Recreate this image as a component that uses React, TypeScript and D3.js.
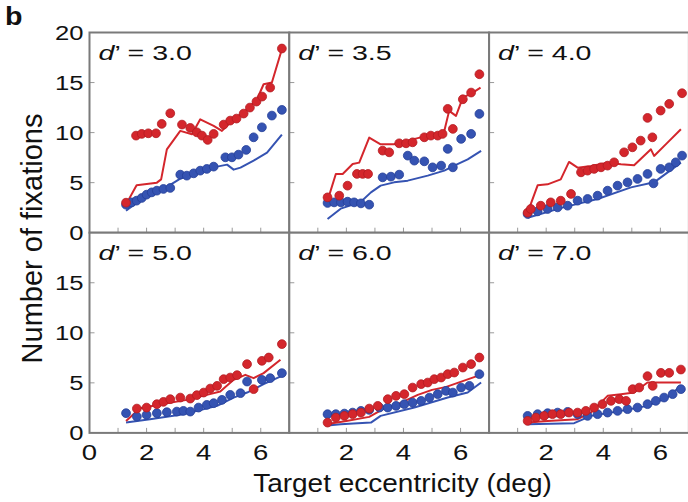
import React from 'react';
import * as d3 from 'd3';

type Pt = [number, number];

// panel titles (d' values)
const dPrimes = ['3.0', '3.5', '4.0', '5.0', '6.0', '7.0'];
const xTicksLabelled = [0, 2, 4, 6];
const xMinorTicks = [1, 2, 3, 4, 5, 6];
const yTicksTop = [0, 5, 10, 15, 20];
const yTicksBottom = [0, 5, 10, 15];
const yMinorTicks = [5, 10, 15];

// d' = 3.0
const red30: Pt[] = [[1.28, 3.0], [1.63, 9.7], [1.83, 9.87], [2.06, 9.93], [2.33, 9.93], [2.53, 10.87], [2.83, 11.93], [3.24, 10.8], [3.53, 10.47], [3.76, 10.03], [3.94, 9.7], [4.14, 9.27], [4.35, 9.87], [4.7, 10.8], [4.93, 11.2], [5.15, 11.4], [5.4, 11.9], [5.62, 12.5], [5.85, 13.1], [6.05, 13.6], [6.33, 14.5], [6.74, 18.4]];
const blue30: Pt[] = [[1.28, 2.8], [1.48, 3.03], [1.65, 3.2], [1.83, 3.47], [2.0, 3.8], [2.18, 4.03], [2.36, 4.2], [2.59, 4.37], [2.83, 4.47], [3.18, 5.8], [3.41, 5.7], [3.65, 5.93], [3.88, 6.2], [4.11, 6.37], [4.35, 6.6], [4.76, 7.53], [4.99, 7.53], [5.22, 7.8], [5.49, 8.27], [5.75, 9.53], [6.04, 10.53], [6.39, 11.7], [6.74, 12.27]];
const redModel30: Pt[] = [[1.28, 2.83], [1.65, 4.73], [2.36, 5.0], [2.51, 5.33], [2.71, 8.33], [3.18, 10.17], [3.59, 9.83], [3.88, 11.33], [4.35, 10.67], [4.64, 10.17], [5.05, 11.33], [5.52, 12.33], [5.87, 13.33], [6.1, 14.83], [6.39, 15.0], [6.74, 18.33]];
const blueModel30: Pt[] = [[1.28, 2.2], [1.75, 3.2], [2.45, 4.1], [3.18, 5.4], [3.88, 6.0], [4.47, 6.6], [4.82, 6.8], [5.05, 6.3], [5.29, 6.5], [5.75, 7.2], [6.22, 8.0], [6.74, 9.8]];

// d' = 3.5
const red35: Pt[] = [[1.34, 3.53], [1.75, 3.7], [2.04, 4.7], [2.37, 5.87], [2.57, 5.87], [2.76, 5.87], [3.27, 8.2], [3.5, 8.03], [3.85, 8.93], [4.09, 8.93], [4.32, 9.03], [4.73, 9.53], [4.96, 9.7], [5.2, 9.7], [5.37, 9.87], [5.55, 12.37], [5.73, 10.37], [6.08, 13.33], [6.37, 14.0], [6.66, 15.83]];
const blue35: Pt[] = [[1.34, 2.97], [1.57, 3.03], [1.81, 3.03], [2.04, 3.1], [2.27, 3.03], [2.51, 2.93], [2.8, 2.8], [3.27, 5.53], [3.56, 5.6], [3.85, 5.8], [4.15, 7.7], [4.38, 7.2], [4.73, 7.13], [5.02, 6.53], [5.32, 6.7], [5.55, 8.37], [5.73, 6.53], [6.02, 9.37], [6.37, 9.87], [6.66, 11.87]];
const redModel35: Pt[] = [[1.34, 3.2], [1.63, 5.87], [1.87, 5.87], [2.22, 6.87], [2.45, 7.0], [2.8, 9.5], [3.2, 8.83], [3.67, 8.83], [4.15, 9.2], [4.85, 9.7], [5.43, 10.17], [5.6, 12.17], [5.84, 11.67], [6.08, 13.5], [6.43, 14.0], [6.7, 14.5]];
const blueModel35: Pt[] = [[1.34, 1.37], [1.8, 2.4], [2.5, 3.07], [2.86, 4.03], [3.2, 4.7], [3.67, 5.03], [4.15, 5.2], [4.85, 5.7], [5.43, 6.2], [5.78, 6.7], [6.25, 7.33], [6.72, 8.17]];

// d' = 4.0
const red40: Pt[] = [[1.35, 2.0], [1.46, 2.37], [1.81, 2.7], [2.16, 3.03], [2.51, 3.2], [2.87, 3.87], [3.22, 6.03], [3.45, 6.2], [3.68, 6.37], [3.92, 6.53], [4.15, 6.7], [4.38, 7.03], [4.73, 8.03], [5.02, 8.53], [5.31, 9.2], [5.55, 11.47], [5.72, 9.53], [6.01, 12.2], [6.31, 12.87], [6.76, 13.93]];
const blue40: Pt[] = [[1.35, 1.87], [1.7, 2.13], [2.05, 2.37], [2.4, 2.53], [2.75, 2.7], [3.1, 3.2], [3.45, 3.37], [3.8, 3.7], [4.15, 4.2], [4.5, 4.7], [4.85, 5.03], [5.2, 5.37], [5.55, 5.87], [5.76, 4.93], [6.01, 6.37], [6.31, 6.53], [6.54, 7.03], [6.76, 7.7]];
const redModel40: Pt[] = [[1.35, 2.0], [1.7, 4.73], [2.05, 4.83], [2.51, 5.33], [2.8, 7.07], [3.1, 6.5], [3.57, 6.67], [4.15, 7.0], [4.62, 6.83], [5.08, 6.73], [5.67, 8.33], [5.78, 7.67], [6.25, 9.0], [6.72, 10.33]];
const blueModel40: Pt[] = [[1.35, 1.5], [2.6, 2.53], [3.8, 3.37], [4.97, 4.53], [5.78, 5.03], [6.72, 7.0]];

// d' = 5.0
const red50: Pt[] = [[1.66, 2.43], [2.0, 2.53], [2.36, 2.87], [2.59, 3.1], [2.83, 3.37], [3.18, 3.53], [3.53, 3.43], [3.76, 3.77], [4.0, 4.03], [4.23, 4.43], [4.47, 4.7], [4.7, 5.37], [4.93, 5.53], [5.17, 5.77], [5.52, 6.87], [5.75, 4.37], [6.04, 7.2], [6.28, 7.53], [6.74, 8.87]];
const blue50: Pt[] = [[1.28, 1.97], [1.66, 1.63], [2.0, 1.8], [2.36, 1.97], [2.71, 2.07], [3.06, 2.13], [3.29, 2.2], [3.53, 2.13], [3.82, 2.53], [4.11, 2.8], [4.35, 2.97], [4.64, 3.3], [4.93, 3.8], [5.29, 3.97], [5.52, 5.13], [6.04, 5.3], [6.33, 5.47], [6.74, 5.97]];
const redModel50: Pt[] = [[1.28, 1.2], [1.77, 2.47], [2.71, 2.97], [3.41, 3.3], [4.11, 3.8], [4.58, 4.13], [5.05, 5.3], [5.46, 5.8], [5.75, 5.47], [6.1, 5.97], [6.69, 7.3]];
const blueModel50: Pt[] = [[1.28, 1.03], [2.12, 1.37], [3.29, 1.87], [4.47, 2.7], [5.05, 3.53], [5.52, 4.03], [6.1, 4.87], [6.74, 5.7]];

// d' = 6.0
const red60: Pt[] = [[1.34, 1.03], [1.63, 1.53], [1.93, 1.7], [2.22, 1.87], [2.51, 2.03], [2.8, 2.43], [3.1, 2.7], [3.45, 3.37], [3.74, 3.7], [4.03, 3.87], [4.32, 4.53], [4.62, 4.87], [4.85, 5.03], [5.08, 5.37], [5.32, 5.53], [5.55, 5.87], [5.78, 6.03], [6.08, 6.53], [6.37, 6.87], [6.66, 7.53]];
const blue60: Pt[] = [[1.34, 1.87], [1.63, 1.87], [1.93, 1.93], [2.22, 2.03], [2.51, 2.2], [2.8, 2.3], [3.16, 2.53], [3.45, 2.53], [3.74, 2.7], [4.03, 2.87], [4.32, 3.03], [4.62, 3.2], [4.91, 3.53], [5.2, 3.87], [5.49, 4.2], [5.73, 4.03], [6.02, 4.53], [6.31, 4.7], [6.66, 5.87]];
const redModel60: Pt[] = [[1.34, 0.9], [2.0, 1.2], [2.8, 1.6], [3.3, 2.4], [3.9, 3.0], [4.5, 3.8], [5.0, 4.3], [5.5, 4.6], [6.0, 5.1], [6.7, 5.8]];
const blueModel60: Pt[] = [[1.34, 0.75], [1.8, 0.87], [2.86, 1.03], [3.2, 1.7], [4.38, 2.53], [5.55, 3.53], [6.25, 4.03], [6.72, 5.03]];

// d' = 7.0
const red70: Pt[] = [[1.35, 1.2], [1.64, 1.53], [1.93, 1.7], [2.22, 1.87], [2.51, 1.87], [2.8, 2.03], [3.1, 2.03], [3.39, 2.2], [3.68, 2.53], [3.97, 2.87], [4.27, 3.2], [4.56, 3.37], [4.8, 3.2], [5.03, 4.37], [5.26, 4.53], [5.55, 5.67], [5.73, 4.7], [6.02, 6.0], [6.31, 6.0], [6.72, 6.33]];
const blue70: Pt[] = [[1.35, 1.7], [1.7, 1.87], [2.05, 1.97], [2.4, 2.03], [2.75, 2.1], [3.1, 1.87], [3.45, 1.7], [3.8, 1.87], [4.15, 2.03], [4.5, 2.2], [4.85, 2.37], [5.2, 2.53], [5.55, 2.87], [5.84, 3.2], [6.13, 3.53], [6.43, 3.87], [6.72, 4.37]];
const redModel70: Pt[] = [[1.35, 1.03], [2.05, 1.2], [3.1, 1.37], [3.57, 2.03], [4.15, 3.7], [4.62, 3.87], [5.08, 4.03], [5.55, 5.03], [6.02, 5.03], [6.72, 5.03]];
const blueModel70: Pt[] = [[1.35, 0.87], [2.98, 0.97], [3.57, 1.7], [4.62, 2.2], [5.55, 2.7], [6.25, 3.53], [6.72, 4.7]];

const panels = [
  { d: dPrimes[0], red: red30, blue: blue30, redModel: redModel30, blueModel: blueModel30 },
  { d: dPrimes[1], red: red35, blue: blue35, redModel: redModel35, blueModel: blueModel35 },
  { d: dPrimes[2], red: red40, blue: blue40, redModel: redModel40, blueModel: blueModel40 },
  { d: dPrimes[3], red: red50, blue: blue50, redModel: redModel50, blueModel: blueModel50 },
  { d: dPrimes[4], red: red60, blue: blue60, redModel: redModel60, blueModel: blueModel60 },
  { d: dPrimes[5], red: red70, blue: blue70, redModel: redModel70, blueModel: blueModel70 },
];

const FONT = "'Liberation Sans', Arial, Helvetica, sans-serif";
const RED = '#d4262c';
const RED_EDGE = '#b21c22';
const BLUE = '#3553b2';
const BLUE_EDGE = '#243f98';
const FRAME = '#7a7a7a';

const left0 = 89.5;
const panelW = 199.8;
const top0 = 32.5;
const panelH = 200.2;

// stretched text, the original lettering is wider than Helvetica
function Txt(props: { x: number; y: number; sx: number; size: number; anchor?: string; weight?: string; children: React.ReactNode }) {
  return (
    <text
      transform={`translate(${props.x},${props.y}) scale(${props.sx},1)`}
      fontSize={props.size}
      textAnchor={props.anchor || 'start'}
      fontWeight={props.weight || 'normal'}
      fill="#111"
    >
      {props.children}
    </text>
  );
}

function Panel({ p, col, row }: { p: typeof panels[number]; col: number; row: number }) {
  const x0 = left0 + col * panelW;
  const y0 = top0 + row * panelH;
  const x = d3.scaleLinear().domain([0, 7]).range([x0, x0 + panelW]);
  const y = d3.scaleLinear().domain([0, 20]).range([y0 + panelH, y0]);
  const line = d3.line<Pt>().x(d => x(d[0])).y(d => y(d[1]));
  return (
    <g>
      <rect x={x0} y={y0} width={panelW} height={panelH} fill="#fff" />
      {xMinorTicks.map(t => (
        <line key={'xt' + t} x1={x(t)} x2={x(t)} y1={y(0)} y2={y(0) - 5} stroke="#9a9a9a" strokeWidth={1} />
      ))}
      {yMinorTicks.map(t => (
        <line key={'yt' + t} x1={x0} x2={x0 + 5} y1={y(t)} y2={y(t)} stroke="#9a9a9a" strokeWidth={1} />
      ))}
      <path d={line(p.blueModel) || ''} fill="none" stroke={BLUE} strokeWidth={2} strokeLinejoin="round" />
      <path d={line(p.redModel) || ''} fill="none" stroke={RED} strokeWidth={2} strokeLinejoin="round" />
      {p.blue.map((d, i) => (
        <circle key={'b' + i} cx={x(d[0])} cy={y(d[1])} r={4.4} fill={BLUE} stroke={BLUE_EDGE} strokeWidth={0.8} />
      ))}
      {p.red.map((d, i) => (
        <circle key={'r' + i} cx={x(d[0])} cy={y(d[1])} r={4.4} fill={RED} stroke={RED_EDGE} strokeWidth={0.8} />
      ))}
      <rect x={x0} y={y0} width={panelW} height={panelH} fill="none" stroke={FRAME} strokeWidth={2} />
      <Txt x={x0 + 9} y={y0 + 27.5} sx={1.36} size={21}>
        <tspan fontStyle="italic">d</tspan>{'\u2019 = ' + p.d}
      </Txt>
      {row === 1 &&
        xTicksLabelled
          .filter(t => col === 0 || t > 0)
          .map(t => (
            <Txt key={'xl' + t} x={x(t)} y={y0 + panelH + 27.5} sx={1.25} size={22} anchor="middle">
              {t}
            </Txt>
          ))}
      {col === 0 &&
        (row === 0 ? yTicksTop : yTicksBottom).map(t => (
          <Txt key={'yl' + t} x={x0 - 6} y={y(t) + 7.4} sx={1.25} size={20.5} anchor="end">
            {t}
          </Txt>
        ))}
    </g>
  );
}

export default function App() {
  return (
    <svg width={688} height={502} style={{ position: 'absolute', left: 0, top: 0, background: '#fff' }} fontFamily={FONT}>
      <rect width={688} height={502} fill="#fff" />
      {panels.map((p, i) => (
        <Panel key={p.d} p={p} col={i % 3} row={Math.floor(i / 3)} />
      ))}
      <Txt x={5} y={25} sx={1.1} size={26} weight="bold">b</Txt>
      <Txt x={402.5} y={492} sx={1.12} size={25} anchor="middle">Target eccentricity (deg)</Txt>
      <text transform="translate(41.5,238.5) rotate(-90)" fontSize={29} textAnchor="middle" fill="#111">
        Number of fixations
      </text>
    </svg>
  );
}
